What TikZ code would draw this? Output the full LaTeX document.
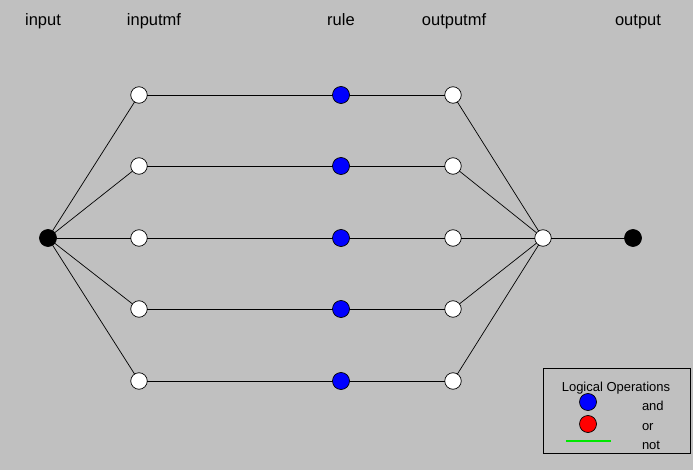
\documentclass[tikz,border=0pt]{standalone}
\usepackage{fontspec}
\setmainfont{Liberation Sans}
\definecolor{bg}{RGB}{192,192,192}
\definecolor{andblue}{RGB}{0,0,255}
\definecolor{orred}{RGB}{255,0,0}
\definecolor{notgreen}{RGB}{0,230,0}
\begin{document}
\begin{tikzpicture}[x=1pt,y=-1pt,
  every node/.style={inner sep=0pt, outer sep=0pt},
  mf/.style={circle, draw=black, fill=white, line width=0.7pt, minimum size=16.5pt},
  term/.style={circle, draw=black, fill=black, line width=0.7pt, minimum size=17pt},
  andop/.style={circle, draw=black, fill=andblue, line width=0.7pt, minimum size=17pt},
  orop/.style={circle, draw=black, fill=orred, line width=0.7pt, minimum size=17pt},
  link/.style={draw=black, line width=0.7pt},
  head/.style={font=\fontsize{16.5}{19}\selectfont, anchor=base},
  legtext/.style={font=\fontsize{13}{15}\selectfont, anchor=base west}]
  % canvas
  \fill[bg] (0,0) rectangle (693,470);
  \useasboundingbox (0,0) rectangle (693,470);

  % column headings (placed on a common baseline)
  \node[head] (hin)   at (43,26)  {input};
  \node[head] (hinmf) at (154,26) {inputmf};
  \node[head] (hrule) at (341,26) {rule};
  \node[head] (hout)  at (454,26) {outputmf};
  \node[head] (houtp) at (638,26) {output};

  % nodes
  \node[term] (in) at (48,238) {};
  \foreach \i/\y in {1/95,2/166,3/238,4/309,5/381} {
    \node[mf]    (imf\i) at (139,\y) {};
    \node[andop] (r\i)   at (341,\y) {};
    \node[mf]    (omf\i) at (453,\y) {};
  }
  \node[mf]   (agg) at (543,238) {};
  \node[term] (out) at (633,238) {};

  % connectors
  \foreach \i in {1,...,5} {
    \draw[link] (in) -- (imf\i);
    \draw[link] (imf\i) -- (r\i);
    \draw[link] (r\i) -- (omf\i);
    \draw[link] (omf\i) -- (agg);
  }
  \draw[link] (agg) -- (out);

  % legend
  \node[draw=black, line width=0.8pt, minimum width=147pt, minimum height=85pt] (legend) at (616.5,410.5) {};
  \node[font=\fontsize{13}{15}\selectfont, anchor=base] (legtitle) at (616,391) {Logical Operations};
  \node[andop] (legand) at (588,402) {};
  \node[orop]  (legor)  at (588,424) {};
  \coordinate (nota) at (566,441);
  \coordinate (notb) at (611,441);
  \draw[draw=notgreen, line width=1.5pt] (nota) -- (notb);
  \node[legtext] (tand) at (642,410) {and};
  \node[legtext] (tor)  at (642,430) {or};
  \node[legtext] (tnot) at (642,449) {not};
\end{tikzpicture}
\end{document}
